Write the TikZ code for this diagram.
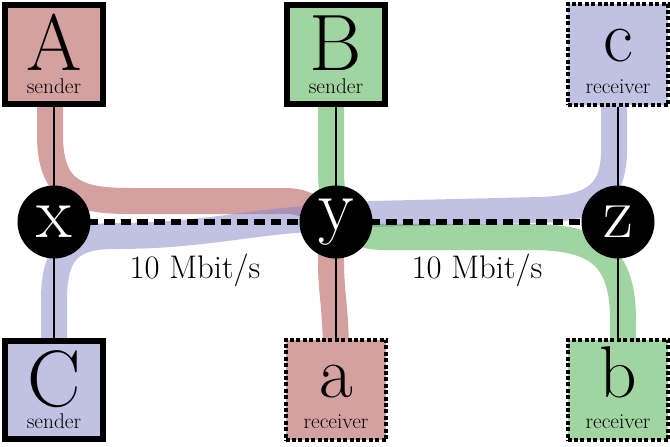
\documentclass[tikz,border=0pt]{standalone}
\definecolor{redfill}{RGB}{212,160,160}
\definecolor{greenfill}{RGB}{160,212,160}
\definecolor{bluefill}{RGB}{193,193,227}
\definecolor{redband}{RGB}{169,65,65}
\definecolor{greenband}{RGB}{65,169,65}
\definecolor{blueband}{RGB}{131,131,199}
\begin{document}
\begin{tikzpicture}[x=0.75pt,y=-0.75pt,
  sender/.style={draw=black, line width=4.8pt, minimum size=73.9pt, inner sep=0pt},
  receiver/.style={draw=black, line width=3pt, dash pattern=on 3pt off 1.8pt, minimum size=75.7pt, inner sep=0pt},
  hub/.style={circle, fill=black, minimum size=54.75pt, inner sep=0pt, text=white, font=\fontsize{55}{55}\selectfont},
  big/.style={anchor=base, inner sep=0pt, font=\fontsize{60}{60}\selectfont},
  small/.style={anchor=base, inner sep=0pt, font=\fontsize{55}{55}\selectfont},
  sub/.style={anchor=base, inner sep=0pt, font=\fontsize{16}{16}\selectfont},
  band/.style={line width=19.5pt, opacity=0.5, line join=round},
  wire/.style={line width=1.5pt},
  link/.style={line width=4.5pt, dash pattern=on 8pt off 4.5pt},
  rate/.style={anchor=base, inner sep=0pt, font=\fontsize{24.5}{24.5}\selectfont}
]
\useasboundingbox (0,0) rectangle (670,446);

% coordinates for node placement
\coordinate (pA) at (54,54.5);
\coordinate (pB) at (336,54.5);
\coordinate (pc) at (618,54.5);
\coordinate (pC) at (54,390);
\coordinate (pa) at (336,390);
\coordinate (pb) at (618,390);

% flow bands
\draw[band, redband] (50,80) -- (50,135) .. controls (50,192) and (78,201) .. (130,201) -- (285,201) .. controls (322,201) and (331,228) .. (331,262) .. controls (331,295) and (336,305) .. (336,360);
\draw[band, blueband] (54,370) -- (54,300) .. controls (54,250) and (72,236) .. (115,236) .. controls (200,236) and (250,222) .. (310,219) -- (372,214) -- (540,210) .. controls (592,208) and (614,195) .. (614,150) -- (614,80);
\draw[band, greenband] (331,80) -- (331,170) .. controls (331,215) and (345,237) .. (385,237) -- (530,237) .. controls (595,237) and (623,255) .. (623,320) -- (623,370);

% boxes
\node[sender, fill=redfill] (A) at (pA) {};
\node[sender, fill=greenfill] (B) at (pB) {};
\node[sender, fill=bluefill] (C) at (pC) {};
\node[receiver, fill=bluefill] (c) at (pc) {};
\node[receiver, fill=redfill] (a) at (pa) {};
\node[receiver, fill=greenfill] (b) at (pb) {};

% hub positions (named), wires and links
\coordinate (x) at (54,222);
\coordinate (y) at (336,222);
\coordinate (z) at (618,222);
\draw[wire] (A) -- (x);
\draw[wire] (x) -- (C);
\draw[wire] (B) -- (y);
\draw[wire] (y) -- (a);
\draw[wire] (c) -- (z);
\draw[wire] (z) -- (b);
\draw[link] (x) -- (y);
\draw[link] (y) -- (z);

% hubs
\node[hub] (hx) at (x) {x};
\node[hub] (hy) at (y) {y};
\node[hub] (hz) at (z) {z};

% labels in boxes
\node[big] (tA) at ([yshift=-16*0.75pt]pA) {A};
\node[sub] (sA) at ([yshift=-38.5*0.75pt]pA) {sender};
\node[big] (tB) at ([yshift=-16*0.75pt]pB) {B};
\node[sub] (sB) at ([yshift=-38.5*0.75pt]pB) {sender};
\node[big] (tC) at ([yshift=-16*0.75pt]pC) {C};
\node[sub] (sC) at ([yshift=-38.5*0.75pt]pC) {sender};
\node[small] (tc) at ([yshift=-7*0.75pt]pc) {c};
\node[sub] (sc) at ([yshift=-38.5*0.75pt]pc) {receiver};
\node[small] (ta) at ([yshift=-7*0.75pt]pa) {a};
\node[sub] (sa) at ([yshift=-38.5*0.75pt]pa) {receiver};
\node[small] (tb) at ([yshift=-7*0.75pt]pb) {b};
\node[sub] (sb) at ([yshift=-38.5*0.75pt]pb) {receiver};

% rates
\node[rate] (r1) at (195,278) {10 Mbit/s};
\node[rate] (r2) at (477,278) {10 Mbit/s};
\end{tikzpicture}
\end{document}
